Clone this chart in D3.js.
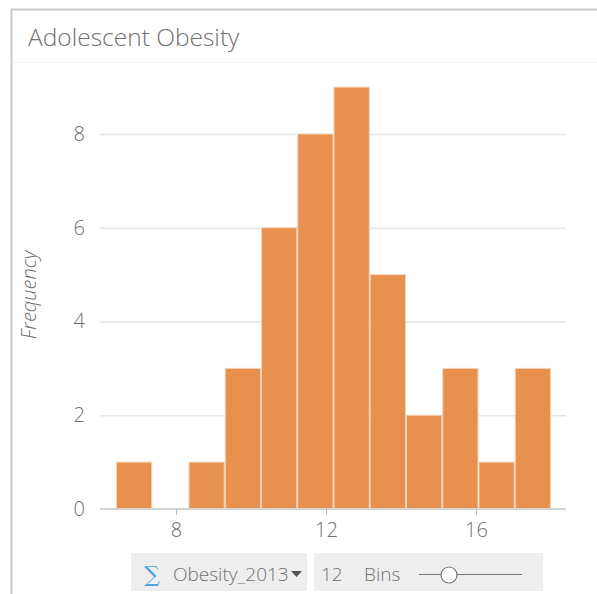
<!DOCTYPE html>
<html><head><meta charset="utf-8">
<script src="https://cdn.jsdelivr.net/npm/d3@7"></script>
<style>
body{margin:0;background:#fff;}
svg{display:block;font-family:"Open Sans",sans-serif;font-weight:300;}
</style></head>
<body><svg id="c" width="597" height="594"></svg>
<script>
const title = "Adolescent Obesity";
const yLabel = "Frequency";
const fieldName = "Obesity_2013";
const binCount = 12;
const binStart = 6.4;
const binEnd = 18.0;
const counts = [1, 0, 1, 3, 6, 8, 9, 5, 2, 3, 1, 3];
const xTicks = [8, 12, 16];
const yTicks = [0, 2, 4, 6, 8];

const svg = d3.select("#c");
const grey = "#707070";

// panel border
svg.append("line").attr("x1",11.5).attr("x2",11.5).attr("y1",9).attr("y2",594).attr("stroke","#c8c8c8").attr("stroke-width",2);
svg.append("line").attr("x1",11).attr("x2",597).attr("y1",9.5).attr("y2",9.5).attr("stroke","#c8c8c8").attr("stroke-width",2);
svg.append("line").attr("x1",12).attr("x2",597).attr("y1",62.5).attr("y2",62.5).attr("stroke","#f2f2f2").attr("stroke-width",1);

svg.append("text").attr("x",28).attr("y",46).attr("fill",grey).attr("font-size",24.5).text(title);

const x = d3.scaleLinear().domain([5.973, 18.4]).range([100, 566]);
const y = d3.scaleLinear().domain([0, 8]).range([509, 134]);

const bw = (binEnd - binStart) / binCount;
const bins = counts.map((c, i) => ({x0: binStart + i*bw, x1: binStart + (i+1)*bw, n: c}));

// grid
const gy = svg.append("g").attr("transform","translate(100,0)")
  .call(d3.axisLeft(y).tickValues(yTicks).tickSize(-466).tickPadding(15).tickFormat(d3.format("d")));
gy.select(".domain").remove();
gy.selectAll(".tick line").attr("stroke","#e6e6e6").attr("stroke-width",1.5);
gy.selectAll(".tick text").attr("fill",grey).attr("font-size",20).attr("font-family","Open Sans").attr("font-weight",300);

// bars
svg.append("g").selectAll("rect").data(bins.filter(b=>b.n>0)).join("rect")
  .attr("x", d => x(d.x0)+0.5)
  .attr("width", d => x(d.x1)-x(d.x0)-1)
  .attr("y", d => y(d.n))
  .attr("height", d => y(0)-y(d.n))
  .attr("fill","#e8914f")
  .attr("stroke","#f6d3b6").attr("stroke-width",1);

// x axis
const gx = svg.append("g").attr("transform","translate(0,509)")
  .call(d3.axisBottom(x).tickValues(xTicks).tickSize(6).tickPadding(8).tickFormat(d3.format("d")));
gx.select(".domain").attr("stroke","#d4d4d4").attr("stroke-width",2).attr("d","M100,0H566");
gx.selectAll(".tick line").attr("stroke","#bdbdbd");
gx.selectAll(".tick text").attr("fill",grey).attr("font-size",20).attr("font-family","Open Sans").attr("font-weight",300);

// y label
svg.append("text").attr("transform","translate(36,295) rotate(-90)").attr("text-anchor","middle")
  .attr("font-style","italic").attr("fill",grey).attr("font-size",20).text(yLabel);

// controls
svg.append("rect").attr("x",131).attr("y",553).attr("width",176).attr("height",38).attr("fill","#eeeeee");
svg.append("rect").attr("x",314).attr("y",553).attr("width",229).attr("height",38).attr("fill","#eeeeee");
svg.append("text").attr("x",144).attr("y",582).attr("fill","#4aa6e8").attr("font-size",22).attr("font-family","DejaVu Serif").attr("font-weight",400).text("\u2211");
svg.append("text").attr("x",173).attr("y",581).attr("fill",grey).attr("font-size",19).text(fieldName);
svg.append("path").attr("d","M291,571 L302,571 L296.5,577 Z").attr("fill","#555");
svg.append("text").attr("x",321).attr("y",581).attr("fill",grey).attr("font-size",19).text(String(binCount));
svg.append("text").attr("x",364).attr("y",581).attr("fill",grey).attr("font-size",19).text("Bins");
svg.append("line").attr("x1",419).attr("x2",522).attr("y1",574.5).attr("y2",574.5).attr("stroke","#777").attr("stroke-width",1.2);
svg.append("circle").attr("cx",449).attr("cy",575).attr("r",8).attr("fill","#fff").attr("stroke","#777").attr("stroke-width",1.2);
</script></body></html>
